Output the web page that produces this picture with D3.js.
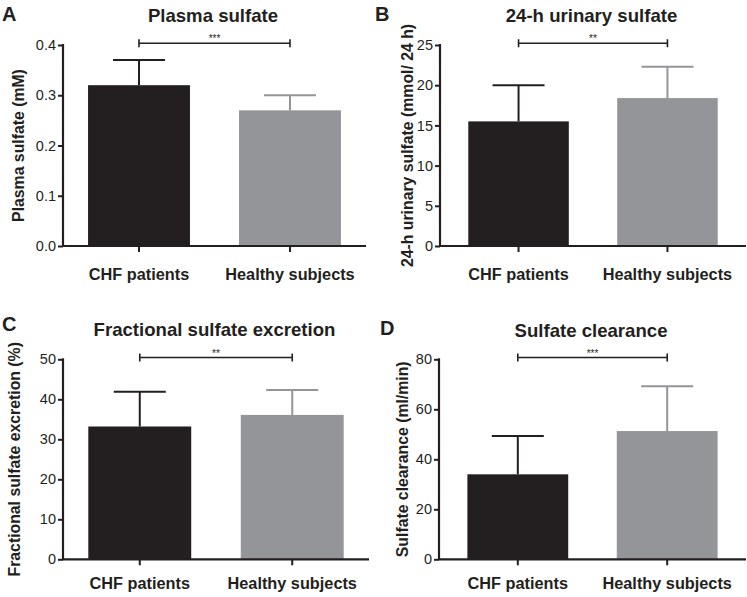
<!DOCTYPE html>
<html>
<head>
<meta charset="utf-8">
<script src="https://cdn.jsdelivr.net/npm/d3@7"></script>
<style>
  html, body { margin: 0; padding: 0; background: #ffffff; }
  svg text { font-family: "Liberation Sans", Arial, Helvetica, sans-serif; fill: #231f20; }
</style>
</head>
<body>
<svg id="chart" width="747" height="597"></svg>
<script>
// ---------- data ----------
const categories = ["CHF patients", "Healthy subjects"];
const panelLetters = ["A", "B", "C", "D"];
const panelTitles = ["Plasma sulfate", "24-h urinary sulfate", "Fractional sulfate excretion", "Sulfate clearance"];
const yAxisLabels = ["Plasma sulfate (mM)", "24-h urinary sulfate (mmol/ 24 h)", "Fractional sulfate excretion (%)", "Sulfate clearance (ml/min)"];
const significance = ["***", "**", "**", "***"];

const plasmaMean = [0.32, 0.27];
const plasmaUpper = [0.37, 0.30];
const urinaryMean = [15.5, 18.4];
const urinaryUpper = [20.0, 22.3];
const fractionalMean = [33.2, 36.1];
const fractionalUpper = [41.9, 42.3];
const clearanceMean = [34.0, 51.3];
const clearanceUpper = [49.3, 69.2];

const plasmaTicks = [0, 0.1, 0.2, 0.3, 0.4];
const urinaryTicks = [0, 5, 10, 15, 20, 25];
const fractionalTicks = [0, 10, 20, 30, 40, 50];
const clearanceTicks = [0, 20, 40, 60, 80];
const tickFormats = [".1f", "d", "d", "d"];

const barColors = ["#231f20", "#939598"];

// ---------- layout ----------
const panels = [
  { mean: plasmaMean, upper: plasmaUpper, ticks: plasmaTicks,
    x0: 63, x1: 366, outer: 0.166, yTop: 45, yBottom: 246,
    letterX: 2, letterY: 21, titleY: 21.7, labelX: 24, catY: 280 },
  { mean: urinaryMean, upper: urinaryUpper, ticks: urinaryTicks,
    x0: 440, x1: 746, outer: 0.19, yTop: 45, yBottom: 246,
    letterX: 375, letterY: 21, titleY: 21.7, labelX: 413, catY: 280 },
  { mean: fractionalMean, upper: fractionalUpper, ticks: fractionalTicks,
    x0: 63, x1: 369, outer: 0.166, yTop: 359.3, yBottom: 559.3,
    letterX: 2, letterY: 331, titleY: 336, labelX: 20, catY: 589 },
  { mean: clearanceMean, upper: clearanceUpper, ticks: clearanceTicks,
    x0: 439, x1: 746, outer: 0.19, yTop: 359.3, yBottom: 559.3,
    letterX: 380, letterY: 335, titleY: 336.5, labelX: 408, catY: 589 }
];

const svg = d3.select("#chart");
const ink = "#231f20";

panels.forEach((p, i) => {
  const g = svg.append("g");
  const dom = [p.ticks[0], p.ticks[p.ticks.length - 1]];
  const y = d3.scaleLinear().domain(dom).range([p.yBottom, p.yTop]);
  const x = d3.scaleBand().domain(categories).range([p.x0, p.x1])
              .paddingInner(0.325).paddingOuter(p.outer);
  const cx = c => x(c) + x.bandwidth() / 2;

  // bars
  g.selectAll("rect.bar").data(categories).join("rect")
    .attr("class", "bar")
    .attr("x", c => x(c))
    .attr("width", x.bandwidth())
    .attr("y", (c, j) => y(p.mean[j]))
    .attr("height", (c, j) => y(0) - y(p.mean[j]))
    .attr("fill", (c, j) => barColors[j]);

  // error bars (upper only)
  const capHalf = 26;
  g.selectAll("line.err").data(categories).join("line")
    .attr("class", "err")
    .attr("x1", c => cx(c)).attr("x2", c => cx(c))
    .attr("y1", (c, j) => y(p.mean[j])).attr("y2", (c, j) => y(p.upper[j]))
    .attr("stroke", (c, j) => barColors[j]).attr("stroke-width", 2);
  g.selectAll("line.cap").data(categories).join("line")
    .attr("class", "cap")
    .attr("x1", c => cx(c) - capHalf).attr("x2", c => cx(c) + capHalf)
    .attr("y1", (c, j) => y(p.upper[j])).attr("y2", (c, j) => y(p.upper[j]))
    .attr("stroke", (c, j) => barColors[j]).attr("stroke-width", 2);

  // y axis
  const yAxis = d3.axisLeft(y).tickValues(p.ticks).tickSize(5).tickPadding(2)
                  .tickFormat(d3.format(tickFormats[i]));
  const ya = g.append("g").attr("transform", `translate(${p.x0},0)`).call(yAxis);
  ya.select(".domain").attr("d", `M0,${p.yTop - 1}V${p.yBottom}`).attr("stroke", ink).attr("stroke-width", 2.2);
  ya.selectAll(".tick line").attr("stroke", ink).attr("stroke-width", 2);
  ya.selectAll(".tick text").attr("font-size", 14.5).style("fill", ink)
    .attr("font-family", '"Liberation Sans", Arial, sans-serif');

  // x axis
  const xAxis = d3.axisBottom(x).tickSize(6).tickFormat("");
  const xa = g.append("g").attr("transform", `translate(0,${p.yBottom})`).call(xAxis);
  xa.select(".domain").attr("d", `M${p.x0},0H${p.x1}`).attr("stroke", ink).attr("stroke-width", 2.2);
  xa.selectAll(".tick line").attr("stroke", ink).attr("stroke-width", 2);

  // category labels
  g.selectAll("text.cat").data(categories).join("text")
    .attr("class", "cat")
    .attr("x", c => cx(c)).attr("y", p.catY)
    .attr("text-anchor", "middle")
    .attr("font-size", 16.3).attr("font-weight", "bold")
    .text(c => c);

  // y label
  g.append("text")
    .attr("transform", `translate(${p.labelX},${(p.yTop + p.yBottom) / 2}) rotate(-90)`)
    .attr("text-anchor", "middle")
    .attr("font-size", 15.8).attr("font-weight", "bold")
    .text(yAxisLabels[i]);

  // title
  const midX = (cx(categories[0]) + cx(categories[1])) / 2;
  g.append("text")
    .attr("x", midX - 1.5).attr("y", p.titleY)
    .attr("text-anchor", "middle")
    .attr("font-size", 18.6).attr("font-weight", "bold")
    .text(panelTitles[i]);

  // panel letter
  g.append("text")
    .attr("x", p.letterX).attr("y", p.letterY)
    .attr("font-size", 20).attr("font-weight", "bold")
    .text(panelLetters[i]);

  // significance bracket
  const by = p.yTop - 1.8;
  const bx1 = cx(categories[0]), bx2 = cx(categories[1]);
  g.append("path")
    .attr("d", `M${bx1},${by}H${bx2}M${bx1},${by - 4}V${by + 4}M${bx2},${by - 4}V${by + 4}`)
    .attr("stroke", ink).attr("stroke-width", 1.6).attr("fill", "none");
  g.append("text")
    .attr("x", midX).attr("y", by - 1)
    .attr("text-anchor", "middle")
    .attr("font-size", 10)
    .text(significance[i]);
});
</script>
</body>
</html>
